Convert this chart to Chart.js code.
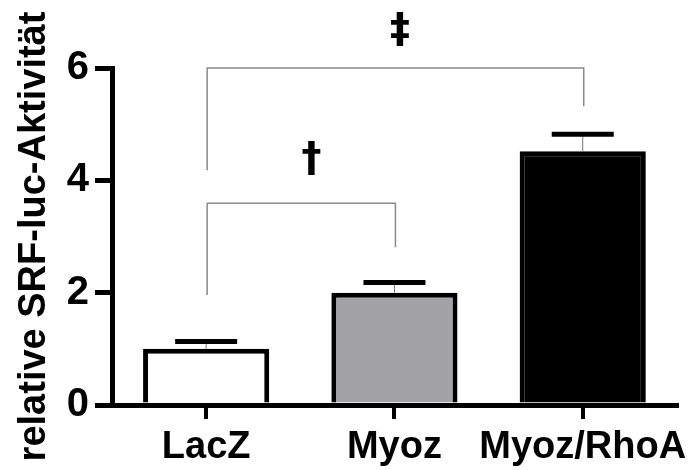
<!DOCTYPE html>
<html>
<head>
<meta charset="utf-8">
<script src="https://cdn.jsdelivr.net/npm/chart.js@4.4.0/dist/chart.umd.min.js"></script>
<style>
  html, body { margin: 0; padding: 0; background: #fff; }
  #wrap { width: 695px; height: 470px; }
</style>
</head>
<body>
<div id="wrap"><canvas id="chart"></canvas></div>
<script>
// データ
const categories = ["LacZ", "Myoz", "Myoz/RhoA"];
const means = [1.0, 2.0, 4.52];
const errors = [0.13, 0.18, 0.30];
const barColors = ["#ffffff", "#a3a3a7", "#000000"];
const yTicks = [0, 2, 4, 6];

// 有意差ブラケット
const bracketFrom = [0, 0];
const bracketTo = [1, 2];
const bracketTop = [3.59, 6.0];
const bracketLeftEnd = [1.96, 4.18];
const bracketRightEnd = [2.81, 5.32];
const bracketMarks = ["\u2020", "\u2021"];
const markX = [0.56, 1.03];
const markY = [4.36, 6.64];

const FONT = "'Liberation Sans', Arial, sans-serif";

// エラーバー描画
const errorBarPlugin = {
  id: "errorBars",
  afterDatasetsDraw(chart) {
    const ctx = chart.ctx;
    const x = chart.scales.x;
    const y = chart.scales.y;
    ctx.save();
    means.forEach(function (m, i) {
      const px = x.getPixelForValue(i);
      const top = y.getPixelForValue(m + errors[i]);
      const base = y.getPixelForValue(m);
      ctx.strokeStyle = "#777";
      ctx.lineWidth = 1;
      ctx.beginPath();
      ctx.moveTo(px, base);
      ctx.lineTo(px, top);
      ctx.stroke();
      ctx.strokeStyle = "#000";
      ctx.lineWidth = 5;
      ctx.beginPath();
      ctx.moveTo(px - 31, top);
      ctx.lineTo(px + 31, top);
      ctx.stroke();
    });
    ctx.restore();
  }
};

// ブラケットと記号
const bracketPlugin = {
  id: "brackets",
  afterDraw(chart) {
    const ctx = chart.ctx;
    const x = chart.scales.x;
    const y = chart.scales.y;
    ctx.save();
    ctx.strokeStyle = "#8a8a8a";
    ctx.lineWidth = 1.5;
    for (let i = 0; i < bracketFrom.length; i++) {
      const x1 = x.getPixelForValue(bracketFrom[i]) + 1;
      const x2 = x.getPixelForValue(bracketTo[i]) + 1;
      const yt = y.getPixelForValue(bracketTop[i]);
      ctx.beginPath();
      ctx.moveTo(x1, y.getPixelForValue(bracketLeftEnd[i]));
      ctx.lineTo(x1, yt);
      ctx.lineTo(x2, yt);
      ctx.lineTo(x2, y.getPixelForValue(bracketRightEnd[i]));
      ctx.stroke();
    }
    ctx.fillStyle = "#000";
    ctx.font = "bold 40px 'DejaVu Sans', sans-serif";
    ctx.textAlign = "center";
    ctx.textBaseline = "middle";
    for (let i = 0; i < bracketMarks.length; i++) {
      const x0 = x.getPixelForValue(0);
      const x1 = x.getPixelForValue(1);
      const px = x0 + (x1 - x0) * markX[i];
      ctx.fillText(bracketMarks[i], px, y.getPixelForValue(markY[i]));
    }
    ctx.restore();
  }
};

new Chart(document.getElementById("chart"), {
  type: "bar",
  data: {
    labels: categories,
    datasets: [{
      data: means,
      backgroundColor: barColors,
      borderColor: "#000",
      borderWidth: 5,
      categoryPercentage: 1.0,
      barPercentage: 0.67
    }]
  },
  options: {
    responsive: true,
    maintainAspectRatio: false,
    animation: false,
    layout: { padding: { top: 68, right: 17, left: 0, bottom: 0 } },
    plugins: {
      legend: { display: false },
      tooltip: { enabled: false }
    },
    scales: {
      x: {
        offset: true,
        afterFit: function (scale) { scale.height = 65; },
        border: { color: "#000", width: 5 },
        grid: {
          offset: false,
          drawOnChartArea: false,
          drawTicks: true,
          tickLength: 14,
          lineWidth: 4,
          color: "#000"
        },
        ticks: {
          color: "#000",
          padding: 6,
          maxRotation: 0,
          minRotation: 0,
          autoSkip: false,
          font: { family: FONT, size: 38, weight: "bold" }
        }
      },
      y: {
        min: 0,
        max: 6,
        afterFit: function (scale) { scale.width = 112; },
        afterBuildTicks: function (scale) {
          scale.ticks = yTicks.map(function (v) { return { value: v }; });
        },
        border: { color: "#000", width: 5 },
        grid: {
          drawOnChartArea: false,
          drawTicks: true,
          tickLength: 17,
          lineWidth: 5,
          color: "#000"
        },
        ticks: {
          color: "#000",
          padding: 6,
          font: { family: FONT, size: 40, weight: "bold" }
        },
        title: {
          display: true,
          text: "relative SRF-luc-Aktivität",
          color: "#000",
          padding: { top: 12, bottom: 0 },
          font: { family: FONT, size: 38, weight: "bold" }
        }
      }
    }
  },
  plugins: [errorBarPlugin, bracketPlugin]
});
</script>
</body>
</html>
